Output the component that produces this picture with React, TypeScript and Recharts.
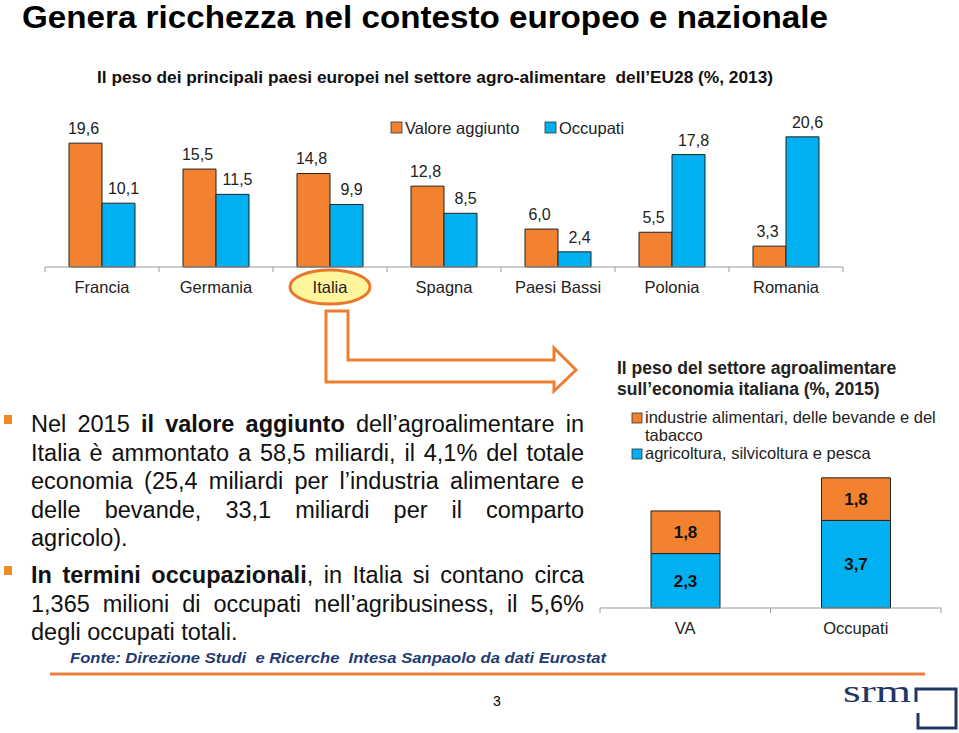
import React from 'react';
import { BarChart, Bar, XAxis, YAxis, LabelList } from 'recharts';

// Peso dei paesi nel settore agro-alimentare EU28 (%, 2013)
const paesi = ['Francia', 'Germania', 'Italia', 'Spagna', 'Paesi Bassi', 'Polonia', 'Romania'];
const valoreAggiunto = [19.6, 15.5, 14.8, 12.8, 6.0, 5.5, 3.3];
const occupati = [10.1, 11.5, 9.9, 8.5, 2.4, 17.8, 20.6];

// Peso del settore agroalimentare sull'economia italiana (%, 2015)
const vociItalia = ['VA', 'Occupati'];
const industrieAlimentari = [1.8, 1.8];
const agricoltura = [2.3, 3.7];

const ORANGE = '#F28130';
const BLUE = '#00B0F0';
const NAVY = '#1F3864';
const FONT = '"Liberation Sans", Arial, sans-serif';
const NARROW = '"Liberation Sans Narrow", "Arial Narrow", "Liberation Sans", Arial, sans-serif';

const fmt = (v: number) => Number(v).toFixed(1).replace('.', ',');

const topData = paesi.map((p, i) => ({ paese: p, va: valoreAggiunto[i], occ: occupati[i] }));
const itData = vociItalia.map((v, i) => ({ voce: v, ind: industrieAlimentari[i], agr: agricoltura[i] }));

// layout dei due grafici
const TOP_W = 959;
const TOP_MARGIN = { top: 128, right: 116, bottom: 23, left: 45 };
const TOP_STEP = (TOP_W - TOP_MARGIN.left - TOP_MARGIN.right) / paesi.length;

const IT_W = 399;
const IT_MARGIN = { top: 126, right: 18, bottom: 12, left: 40 };
const IT_STEP = (IT_W - IT_MARGIN.left - IT_MARGIN.right) / vociItalia.length;

const makeTick = (step: number, count: number) => (props: any) => {
  const { x, y, payload, index } = props;
  const half = step / 2;
  return (
    <g>
      <line x1={x - half} y1={y} x2={x - half} y2={y + 5} stroke="#999" />
      {index === count - 1 && <line x1={x + half} y1={y} x2={x + half} y2={y + 5} stroke="#999" />}
      {payload.value === 'Italia' && (
        <ellipse cx={x} cy={y + 20} rx={40} ry={17} fill="#FFF59D" stroke="#E8782E" strokeWidth={3} />
      )}
      <text x={x} y={y + 26} textAnchor="middle" fontSize={16.5} fontFamily={FONT} fill="#222">
        {payload.value}
      </text>
    </g>
  );
};

const topLabel = (dx: number) => (props: any) => {
  const { x, y, width, value } = props;
  return (
    <text x={x + width / 2 + dx} y={y - 9} textAnchor="middle" fontSize={16} fontFamily={FONT} fill="#222">
      {fmt(value)}
    </text>
  );
};

const centerLabel = (props: any) => {
  const { x, y, width, height, value } = props;
  return (
    <text x={x + width / 2} y={y + height / 2 + 6} textAnchor="middle" fontSize={17} fontWeight="bold" fontFamily={FONT} fill="#111">
      {fmt(value)}
    </text>
  );
};

// righe del testo, spezzate come nella slide
const Riga = ({ children, last }: { children: React.ReactNode; last?: boolean }) => (
  <div style={{ textAlign: 'justify', textAlignLast: last ? 'left' : 'justify', height: 28.5 }}>{children}</div>
);

const Bullet = ({ top }: { top: number }) => (
  <div style={{ position: 'absolute', left: 4, top, width: 8, height: 9, background: '#F08A24' }} />
);

export default function App() {
  return (
    <div style={{ position: 'absolute', left: 0, top: 0, width: 959, height: 733, background: '#fff', overflow: 'hidden', fontFamily: FONT }}>
      <svg width={959} height={733} style={{ position: 'absolute', left: 0, top: 0 }}>
        <text x={22} y={28} fontSize={32} fontWeight="bold" fontFamily={NARROW} fill="#000" textLength={806} lengthAdjust="spacingAndGlyphs">
          Genera ricchezza nel contesto europeo e nazionale
        </text>
        <text x={97} y={83} fontSize={16} fontWeight="bold" fontFamily={NARROW} fill="#111" textLength={676} lengthAdjust="spacingAndGlyphs" style={{ whiteSpace: 'pre' }}>
          Il peso dei principali paesi europei nel settore agro-alimentare  dell’EU28 (%, 2013)
        </text>

        {/* legenda grafico superiore */}
        <rect x={391} y={122} width={11} height={11} fill={ORANGE} stroke="#333" strokeWidth={0.8} />
        <text x={405} y={134} fontSize={16.5} fill="#222">Valore aggiunto</text>
        <rect x={545} y={122} width={11} height={11} fill={BLUE} stroke="#333" strokeWidth={0.8} />
        <text x={559} y={134} fontSize={16.5} fill="#222">Occupati</text>

        {/* freccia */}
        <polygon
          points="326,311 348,311 348,360 554,360 554,348 576,370 554,391 554,382 326,382"
          fill="none"
          stroke="#ED7D31"
          strokeWidth={3}
          strokeLinejoin="miter"
        />

        {/* titolo e legenda grafico destro */}
        <text x={617} y={374} fontSize={17.5} fontWeight="bold" fill="#222">Il peso del settore agroalimentare</text>
        <text x={617} y={395} fontSize={17.5} fontWeight="bold" fill="#222">sull’economia italiana (%, 2015)</text>
        <rect x={632} y={413} width={10} height={10} fill={ORANGE} stroke="#333" strokeWidth={0.8} />
        <text x={645} y={423} fontSize={16.5} fill="#222">industrie alimentari, delle bevande e del</text>
        <text x={645} y={441} fontSize={16.5} fill="#222">tabacco</text>
        <rect x={632} y={449} width={10} height={10} fill={BLUE} stroke="#333" strokeWidth={0.8} />
        <text x={645} y={459} fontSize={16.5} fill="#222">agricoltura, silvicoltura e pesca</text>

        <text x={70} y={663} fontSize={15} fontWeight="bold" fontStyle="italic" fill="#1F3B73" textLength={536} lengthAdjust="spacingAndGlyphs" style={{ whiteSpace: 'pre' }}>
          Fonte: Direzione Studi  e Ricerche  Intesa Sanpaolo da dati Eurostat
        </text>
        <line x1={50} y1={674} x2={925} y2={674} stroke="#E8803A" strokeWidth={3} />
        <text x={497} y={706} fontSize={14} textAnchor="middle" fill="#000">3</text>

        {/* logo */}
        <text x={843} y={702} fontSize={32} fontFamily='"Liberation Serif", "DejaVu Serif", serif' fill={NAVY} textLength={68} lengthAdjust="spacingAndGlyphs">
          srm
        </text>
        <polyline points="916,702 916,689 956,689 956,728 918,728 918,713" fill="none" stroke={NAVY} strokeWidth={3} />
      </svg>

      <div style={{ position: 'absolute', left: 0, top: 0 }}>
        <BarChart width={TOP_W} height={320} data={topData} margin={TOP_MARGIN} barGap={0} barSize={33}>
          <XAxis
            dataKey="paese"
            height={30}
            tickSize={0}
            tickMargin={0}
            tickLine={false}
            axisLine={{ stroke: '#999' }}
            interval={0}
            tick={makeTick(TOP_STEP, paesi.length)}
          />
          <YAxis hide domain={[0, 22]} />
          <Bar dataKey="va" name="Valore aggiunto" fill={ORANGE} stroke="#222" strokeWidth={1} isAnimationActive={false}>
            <LabelList dataKey="va" content={topLabel(-2)} />
          </Bar>
          <Bar dataKey="occ" name="Occupati" fill={BLUE} stroke="#222" strokeWidth={1} isAnimationActive={false}>
            <LabelList dataKey="occ" content={topLabel(5)} />
          </Bar>
        </BarChart>
      </div>

      <div style={{ position: 'absolute', left: 560, top: 340 }}>
        <BarChart width={IT_W} height={310} data={itData} margin={IT_MARGIN} barSize={69}>
          <XAxis
            dataKey="voce"
            height={30}
            tickSize={0}
            tickMargin={0}
            tickLine={false}
            axisLine={{ stroke: '#999' }}
            interval={0}
            tick={makeTick(IT_STEP, vociItalia.length)}
          />
          <YAxis hide domain={[0, 6]} />
          <Bar dataKey="agr" stackId="a" name="agricoltura, silvicoltura e pesca" fill={BLUE} stroke="#222" strokeWidth={1} isAnimationActive={false}>
            <LabelList dataKey="agr" content={centerLabel} />
          </Bar>
          <Bar dataKey="ind" stackId="a" name="industrie alimentari, delle bevande e del tabacco" fill={ORANGE} stroke="#222" strokeWidth={1} isAnimationActive={false}>
            <LabelList dataKey="ind" content={centerLabel} />
          </Bar>
        </BarChart>
      </div>

      <Bullet top={415} />
      <Bullet top={566} />
      <div style={{ position: 'absolute', left: 31, top: 410, width: 553, fontSize: 23.5, lineHeight: '28.5px', color: '#111' }}>
        <Riga>
          Nel 2015 <b>il valore aggiunto</b> dell’agroalimentare in
        </Riga>
        <Riga>Italia è ammontato a 58,5 miliardi, il 4,1% del totale</Riga>
        <Riga>economia (25,4 miliardi per l’industria alimentare e</Riga>
        <Riga>delle bevande, 33,1 miliardi per il comparto</Riga>
        <Riga last>agricolo).</Riga>
        <div style={{ height: 8.5 }} />
        <Riga>
          <b>In termini occupazionali</b>, in Italia si contano circa
        </Riga>
        <Riga>1,365 milioni di occupati nell’agribusiness, il 5,6%</Riga>
        <Riga last>degli occupati totali.</Riga>
      </div>
    </div>
  );
}
